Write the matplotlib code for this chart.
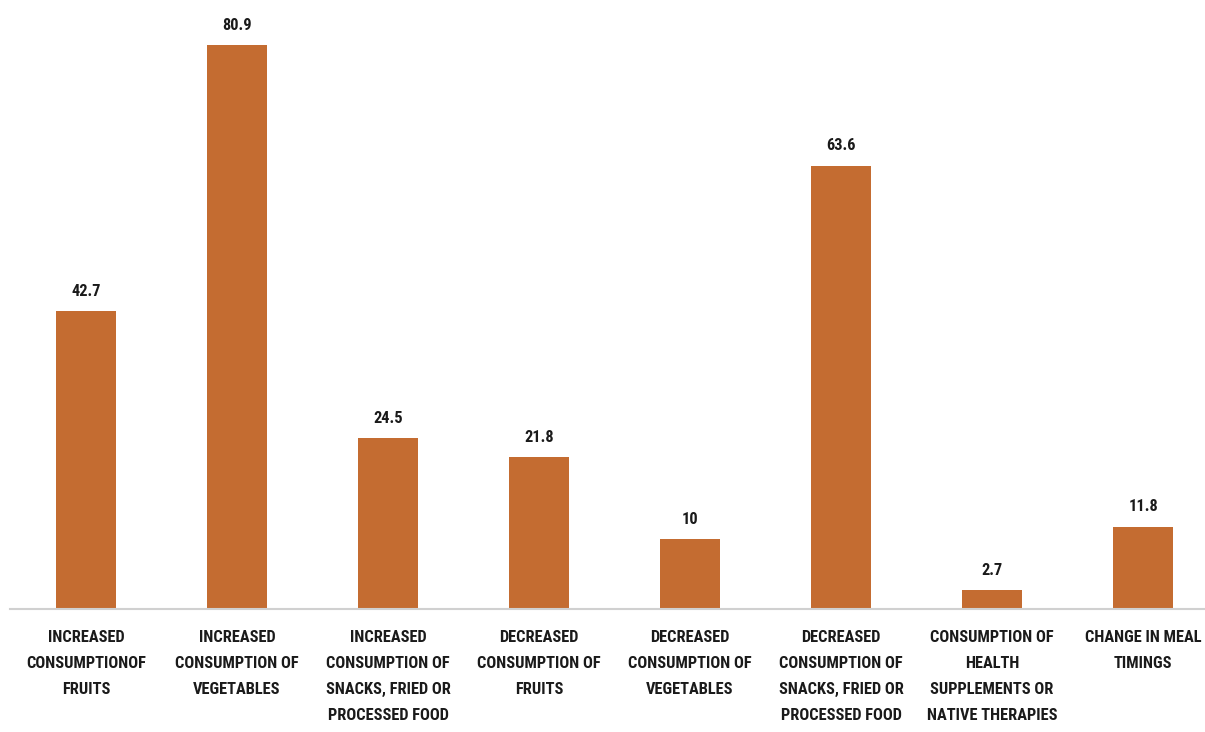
import matplotlib.pyplot as plt
from matplotlib import font_manager
from matplotlib.font_manager import FontProperties

# dados
categorias = [
    "INCREASED\nCONSUMPTIONOF\nFRUITS",
    "INCREASED\nCONSUMPTION OF\nVEGETABLES",
    "INCREASED\nCONSUMPTION OF\nSNACKS, FRIED OR\nPROCESSED FOOD",
    "DECREASED\nCONSUMPTION OF\nFRUITS",
    "DECREASED\nCONSUMPTION OF\nVEGETABLES",
    "DECREASED\nCONSUMPTION OF\nSNACKS, FRIED OR\nPROCESSED FOOD",
    "CONSUMPTION OF\nHEALTH\nSUPPLEMENTS OR\nNATIVE THERAPIES",
    "CHANGE IN MEAL\nTIMINGS",
]
valores = [42.7, 80.9, 24.5, 21.8, 10, 63.6, 2.7, 11.8]
rotulos = ["42.7", "80.9", "24.5", "21.8", "10", "63.6", "2.7", "11.8"]

# procura uma fonte estreita (parecida com Calibri)
fp = None
for fam in ['Liberation Sans Narrow', 'Roboto Condensed', 'Open Sans Condensed',
            'Noto Sans', 'DejaVu Sans', 'Roboto', 'Open Sans']:
    p = FontProperties(family=fam, weight='bold', stretch='condensed')
    try:
        f = font_manager.findfont(p, fallback_to_default=False)
    except Exception:
        continue
    if 'Condensed' in f or 'Narrow' in f:
        fp = p
        break
if fp is None:
    fp = FontProperties(family='Lato', weight='bold')

fig = plt.figure(figsize=(12.05, 7.32), dpi=100)

# ajusta o tamanho para "CHANGE IN MEAL" caber na borda (~116 px)
r = fig.canvas.get_renderer()
teste = fig.text(0, 0, "CHANGE IN MEAL", fontproperties=fp, fontsize=10)
larg = teste.get_window_extent(r).width
teste.remove()
fs = 10 * 116 / larg
fp.set_size(fs)

# passo entre linhas (~26-27 px)
t1 = fig.text(0, 0, "A", fontproperties=fp, linespacing=1.0)
t2 = fig.text(0, 0, "A\nA", fontproperties=fp, linespacing=1.0)
passo = t2.get_window_extent(r).height - t1.get_window_extent(r).height
t1.remove()
t2.remove()
esp = 29 / passo

ax = fig.add_axes([10 / 1205, 123 / 732, 1195 / 1205, 609 / 732])

x = range(len(valores))
barras = ax.bar(x, valores, width=0.4, color='#C46C31')
for b, rt in zip(barras, rotulos):
    ax.annotate(rt, (b.get_x() + b.get_width() / 2, b.get_height()),
                xytext=(0, 9), textcoords='offset points', ha='center', va='bottom',
                fontproperties=fp, color='#1a1a1a')

ax.set_xlim(-0.503, 7.41)
ax.set_ylim(0, 87.4)
ax.set_yticks([])
ax.set_xticks(list(x))
ax.set_xticklabels(categorias, fontproperties=fp, color='#1a1a1a', linespacing=esp)
ax.tick_params(axis='x', length=0, pad=15)
for s in ['top', 'right', 'left']:
    ax.spines[s].set_visible(False)
ax.spines['bottom'].set_color('#d0d0d0')
ax.spines['bottom'].set_linewidth(1.5)

fig.savefig('out.png', dpi=100)
